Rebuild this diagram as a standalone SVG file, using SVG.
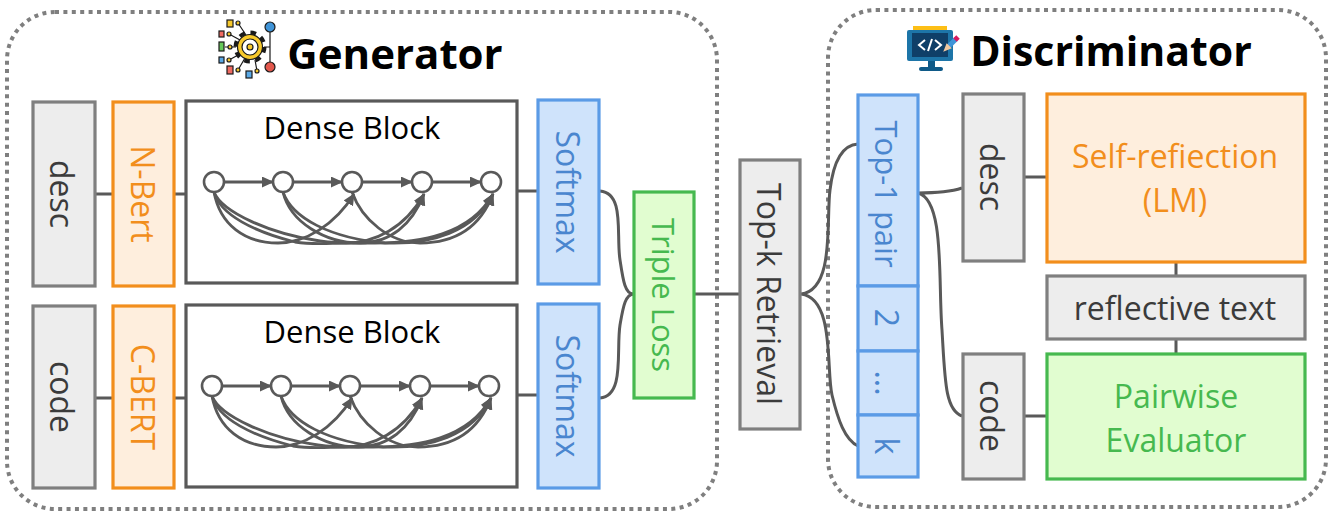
<svg xmlns="http://www.w3.org/2000/svg" xmlns:xlink="http://www.w3.org/1999/xlink" width="1335" height="517" viewBox="0 0 1335 517">
<style>
text{font-family:"Open Sans","Noto Sans","Liberation Sans",sans-serif;text-anchor:middle;dominant-baseline:central}
.frame{fill:#fff;stroke:#7f7f7f;stroke-width:4;stroke-dasharray:4 4.4}
.b{stroke-width:3.2}
.gray{fill:#ededed;stroke:#7f7f7f}
.or{fill:#feeedd;stroke:#f28e1c}
.bl{fill:#cfe3fb;stroke:#5b9be6}
.gr{fill:#e1fdd0;stroke:#46b94f}
.wh{fill:#fff;stroke:#595959}
.tg{fill:#3b3b3b}.to{fill:#f28e1c}.tb{fill:#4a86cf}.tgr{fill:#46b94f}
.t32{font-size:32px}
.t31{font-size:31px;fill:#000}
.title{font-size:42px;font-weight:700;fill:#000}
.c{fill:none;stroke:#595959;stroke-width:3}
.e{fill:none;stroke:#595959;stroke-width:2.8}
.n{fill:#fff;stroke:#595959;stroke-width:2.6}
.k{stroke:#1a1a1a;stroke-width:1.2}
</style>
<defs>
<marker id="ah" markerUnits="userSpaceOnUse" markerWidth="14" markerHeight="12" refX="11" refY="5.5" orient="auto"><path d="M0 0L12 5.5L0 11z" fill="#595959"/></marker>
<g id="dense">
<path class="e" marker-end="url(#ah)" d="M224 182H273"/>
<path class="e" marker-end="url(#ah)" d="M293 182H342"/>
<path class="e" marker-end="url(#ah)" d="M362 182H412"/>
<path class="e" marker-end="url(#ah)" d="M432 182H481"/>
<path class="e" marker-end="url(#ah)" d="M214 192C220 225 245 243 278 243C305 243 335 225 354 194"/>
<path class="e" marker-end="url(#ah)" d="M214 192C220 215 255 232 295 242C315 245 330 243 345 243C375 243 405 228 424 194"/>
<path class="e" marker-end="url(#ah)" d="M214 192C222 212 270 234 320 241C340 244 355 243 375 243C420 243 470 235 493 194"/>
<path class="e" marker-end="url(#ah)" d="M283 192C290 222 325 243 360 243C390 243 412 225 424 194"/>
<path class="e" marker-end="url(#ah)" d="M283 192C292 218 330 238 385 243C430 245 475 232 493 194"/>
<path class="e" marker-end="url(#ah)" d="M352 192C362 220 390 243 420 243C455 243 480 228 493 194"/>
<circle class="n" cx="214" cy="182" r="10"/><circle class="n" cx="283" cy="182" r="10"/><circle class="n" cx="352" cy="182" r="10"/><circle class="n" cx="422" cy="182" r="10"/><circle class="n" cx="491" cy="182" r="10"/>
</g>
</defs>
<rect width="1335" height="517" fill="#fff"/>
<rect class="frame" x="7" y="12" width="710" height="497" rx="48"/>
<rect class="frame" x="828" y="10" width="498" height="497" rx="48"/>

<g id="connectors">
<path class="c" d="M95 194H112M174 194H186M517 191H538M95 398H112M174 398H186M517 395H538"/>
<path class="c" d="M600 191C625 193 616 235 620 260C623 280 625 295 634 294M600 398C625 396 616 350 620 325C623 308 625 294 634 294"/>
<path class="c" d="M694 294H739"/>
<path class="c" d="M801 294C835 290 826 220 830 190C833 165 840 145 858 144M801 294C835 298 826 370 832 395C838 420 845 440 858 446"/>
<path class="c" d="M918 193C935 193 950 192 962 188M918 193C945 200 938 280 942 330C945 380 945 410 962 416"/>
<path class="c" d="M1024 177H1046M1024 416H1046M1176 262V276M1176 339V354"/>
</g>

<g id="gen-title">
<g id="gen-icon">
<path class="k" fill="none" d="M238 23L248 38M229 34L240 40M225 47H236M229 60L240 54M238 70L245 58M257 71L255 60M270 30V64M264 47H270"/>
<circle class="k" cx="238" cy="23" r="2" fill="#f7c92c"/><circle class="k" cx="229" cy="34" r="2" fill="#f7c92c"/><circle class="k" cx="230" cy="47" r="2" fill="#f7c92c"/><circle class="k" cx="229" cy="60" r="2" fill="#f7c92c"/><circle class="k" cx="238" cy="70" r="2" fill="#f7c92c"/><circle class="k" cx="257" cy="71" r="2" fill="#f7c92c"/>
<rect class="k" x="227" y="20" width="6" height="7" fill="#f7c92c"/><rect class="k" x="219" y="31" width="5" height="6" fill="#ef6a61"/><rect class="k" x="219" y="42" width="5" height="9" fill="#66c95a"/><rect class="k" x="219" y="57" width="5" height="6" fill="#5aa9e6"/><rect class="k" x="227" y="66" width="6" height="8" fill="#ef6a61"/><rect class="k" x="246" y="71" width="6" height="7" fill="#5aa9e6"/>
<circle cx="250" cy="47" r="14" fill="none" stroke="#1a1a1a" stroke-width="5" stroke-dasharray="5.5 5.5"/>
<circle class="k" cx="250" cy="47" r="12.5" fill="#f7c92c"/><circle class="k" cx="250" cy="47" r="8" fill="#fff"/><circle class="k" cx="250" cy="47" r="3" fill="#f7c92c"/>
<circle class="k" cx="270" cy="27" r="5" fill="#3f94d8"/><circle class="k" cx="270" cy="67" r="5" fill="#e2574c"/>
</g>
<text class="title" x="395" y="52">Generator</text>
</g>
<g id="disc-title">
<g id="disc-icon">
<rect x="913" y="26" width="34" height="5" fill="#fdbf16"/>
<rect x="907" y="30" width="46" height="31" rx="2" fill="#1d75a8"/>
<rect x="912" y="33" width="36" height="24" fill="#0f3f68"/>
<rect x="928" y="61" width="7" height="6" fill="#0f5a88"/>
<rect x="919" y="67" width="24" height="4" rx="2" fill="#0f5a88"/>
<path d="M925 40L919 45L925 50M935 40L941 45L935 50M932 39L928 51" fill="none" stroke="#fff" stroke-width="2"/>
<path d="M948 47L956 39" stroke="#3f94d8" stroke-width="5"/><path d="M955 40L958 37" stroke="#d81b60" stroke-width="5"/><path d="M945 50L947 45L950 48z" fill="#f0c8a0" stroke="#f0c8a0" stroke-width="2"/>
</g>
<text class="title" x="1111" y="50" style="font-size:41px">Discriminator</text>
</g>

<g id="desc1"><rect class="b gray" x="33" y="102" width="62" height="184"/><text class="t32 tg" transform="translate(62 194) rotate(90)">desc</text></g>
<g id="nbert"><rect class="b or" x="113" y="102" width="61" height="184"/><text class="t32 to" transform="translate(143 194) rotate(90)">N-Bert</text></g>
<g id="dense1"><rect class="b wh" x="186" y="101" width="331" height="182"/><text class="t31" x="352" y="127">Dense Block</text><use xlink:href="#dense" href="#dense"/></g>
<g id="softmax1"><rect class="b bl" x="538" y="100" width="61" height="184"/><text class="t32 tb" transform="translate(568 192) rotate(90)">Softmax</text></g>
<g id="code1"><rect class="b gray" x="33" y="306" width="62" height="182"/><text class="t32 tg" transform="translate(62 397) rotate(90)">code</text></g>
<g id="cbert"><rect class="b or" x="113" y="306" width="61" height="182"/><text class="t32 to" transform="translate(143 397) rotate(90)">C-BERT</text></g>
<g id="dense2"><rect class="b wh" x="186" y="305" width="331" height="182"/><text class="t31" x="352" y="331">Dense Block</text><use xlink:href="#dense" href="#dense" transform="translate(-2 204)"/></g>
<g id="softmax2"><rect class="b bl" x="538" y="304" width="61" height="184"/><text class="t32 tb" transform="translate(568 396) rotate(90)">Softmax</text></g>
<g id="triple"><rect class="b gr" x="634" y="192" width="60" height="206"/><text class="tgr" style="font-size:31px" transform="translate(664 295) rotate(90)">Triple Loss</text></g>
<g id="topk"><rect class="b gray" x="740" y="160" width="60" height="269"/><text class="t32 tg" transform="translate(769 294) rotate(90)">Top-k Retrieval</text></g>
<g id="top1"><rect class="b bl" x="858" y="95" width="60" height="191"/><text class="tb" style="font-size:31px" transform="translate(887 194) rotate(90)">Top-1 pair</text></g>
<g id="top2"><rect class="b bl" x="858" y="286" width="60" height="65"/><text class="t32 tb" transform="translate(887 318) rotate(90)">2</text></g>
<g id="topd"><rect class="b bl" x="858" y="351" width="60" height="64"/><text class="t32 tb" transform="translate(887 383) rotate(90)">...</text></g>
<g id="topk2"><rect class="b bl" x="858" y="415" width="60" height="62"/><text class="t32 tb" transform="translate(887 446) rotate(90)">k</text></g>
<g id="desc2"><rect class="b gray" x="963" y="94" width="61" height="167"/><text class="t32 tg" transform="translate(992 177) rotate(90)">desc</text></g>
<g id="code2"><rect class="b gray" x="963" y="354" width="61" height="125"/><text class="t32 tg" transform="translate(992 416) rotate(90)">code</text></g>
<g id="reflect"><rect class="b or" x="1047" y="94" width="258" height="168"/><text class="t32 to" x="1175" y="155">Self-refiection</text><text class="t32 to" x="1175" y="199">(LM)</text></g>
<g id="rtext"><rect class="b gray" x="1047" y="276" width="258" height="63"/><text class="t32 tg" x="1175" y="307">reflective text</text></g>
<g id="pair"><rect class="b gr" x="1047" y="354" width="258" height="125"/><text class="t32 tgr" x="1176" y="395">Pairwise</text><text class="t32 tgr" x="1176" y="439">Evaluator</text></g>
</svg>
